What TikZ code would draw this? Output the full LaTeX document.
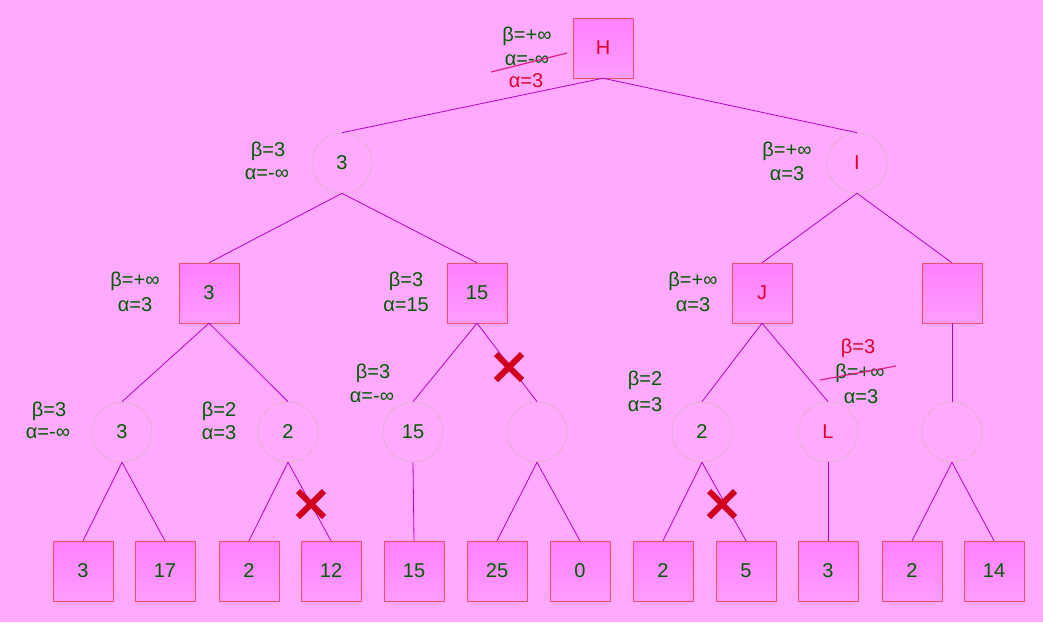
\documentclass[tikz,border=0pt]{standalone}
\usepackage{fontspec}
\setmainfont{Liberation Sans}
\usetikzlibrary{shapes.misc}
\definecolor{bgpink}{HTML}{FFAAFF}
\definecolor{boxtop}{HTML}{FF80FF}
\definecolor{boxbot}{HTML}{FF9CFF}
\definecolor{boxline}{HTML}{F0506E}
\definecolor{ringline}{HTML}{B8B890}
\definecolor{linkcol}{HTML}{B400C8}
\definecolor{valgreen}{HTML}{005A00}
\definecolor{newred}{HTML}{E0002A}
\definecolor{cutred}{HTML}{D0001E}
\definecolor{strikecol}{HTML}{E0207F}

\begin{document}
\begin{tikzpicture}[x=1pt,y=-1pt,
    every node/.style={font=\fontsize{20}{24}\selectfont, text=valgreen},
    maxbox/.style={draw=boxline, top color=boxtop, bottom color=boxbot, minimum size=60pt, inner sep=0pt},
    minnode/.style={circle, draw=ringline, line width=0.6pt, dash pattern=on 1pt off 1pt, minimum size=60pt, inner sep=0pt},
    newval/.style={text=newred},
    link/.style={draw=linkcol, line width=0.8pt},
    strike/.style={draw=strikecol, line width=1.2pt},
    cut/.style={cross out, draw=cutred, line width=6pt, minimum size=20pt, inner sep=0pt}]
    \fill[bgpink] (0,0) rectangle (1043,622);
    \useasboundingbox (0,0) rectangle (1043,622);

    % tree nodes
    \node[maxbox] (H) at (603,48) {\textcolor{newred}{H}};
    \node[minnode] (B) at (342,163) {3};
    \node[minnode] (I) at (857,163) {\textcolor{newred}{I}};
    \node[maxbox] (C) at (209,293) {3};
    \node[maxbox] (D) at (477,293) {15};
    \node[maxbox] (J) at (762,293) {\textcolor{newred}{J}};
    \node[maxbox] (K) at (952,293) {};
    \node[minnode] (E) at (122,432) {3};
    \node[minnode] (F) at (288,432) {2};
    \node[minnode] (G) at (413,432) {15};
    \node[minnode] (M) at (537,432) {};
    \node[minnode] (N) at (702,432) {2};
    \node[minnode] (L) at (828,432) {\textcolor{newred}{L}};
    \node[minnode] (P) at (952,432) {};
    \foreach \v/\x [count=\i] in {3/83,17/165,2/249,12/331,15/414,25/497,0/580,2/663,5/746,3/828,2/912,14/994}
        \node[maxbox] (leaf\i) at (\x,571) {\v};

    % edges
    \draw[link] (H.south) edge (B.north) edge (I.north);
    \draw[link] (B.south) edge (C.north) edge (D.north);
    \draw[link] (I.south) edge (J.north) edge (K.north);
    \draw[link] (C.south) edge (E.north) edge (F.north);
    \draw[link] (D.south) edge (G.north) edge (M.north);
    \draw[link] (J.south) edge (N.north) edge (L.north);
    \draw[link] (K.south) edge (P.north);
    \draw[link] (E.south) edge (leaf1.north) edge (leaf2.north);
    \draw[link] (F.south) edge (leaf3.north) edge (leaf4.north);
    \draw[link] (G.south) edge (leaf5.north);
    \draw[link] (M.south) edge (leaf6.north) edge (leaf7.north);
    \draw[link] (N.south) edge (leaf8.north) edge (leaf9.north);
    \draw[link] (L.south) edge (leaf10.north);
    \draw[link] (P.south) edge (leaf11.north) edge (leaf12.north);

    % alpha / beta bounds
    \node (Hb) at (527,36) {β=+∞};
    \node (Ha) at (527,60) {α=-∞};
    \node[newval] (Hn) at (526,81) {α=3};
    \draw[strike] (491,72) -- (567,53);
    \node (Bb) at (268,151) {β=3};
    \node (Ba) at (267,174) {α=-∞};
    \node (Ib) at (787,151) {β=+∞};
    \node (Ia) at (787,174) {α=3};
    \node (Cb) at (135,281) {β=+∞};
    \node (Ca) at (135,305) {α=3};
    \node (Db) at (406,281) {β=3};
    \node (Da) at (406,305) {α=15};
    \node (Jb) at (693,281) {β=+∞};
    \node (Ja) at (693,305) {α=3};
    \node (Eb) at (49,411) {β=3};
    \node (Ea) at (48,433) {α=-∞};
    \node (Fb) at (219,411) {β=2};
    \node (Fa) at (219,433) {α=3};
    \node (Gb) at (373,373) {β=3};
    \node (Ga) at (372,397) {α=-∞};
    \node (Nb) at (645,380) {β=2};
    \node (Na) at (645,405) {α=3};
    \node[newval] (Ln) at (858,348) {β=3};
    \node (Lb) at (860,373) {β=+∞};
    \node (La) at (861,397) {α=3};
    \draw[strike] (820,380) -- (896,366);

    % pruned branches
    \node[cut] (cut1) at (509,367) {};
    \node[cut] (cut2) at (311,504) {};
    \node[cut] (cut3) at (722,504) {};
\end{tikzpicture}
\end{document}
